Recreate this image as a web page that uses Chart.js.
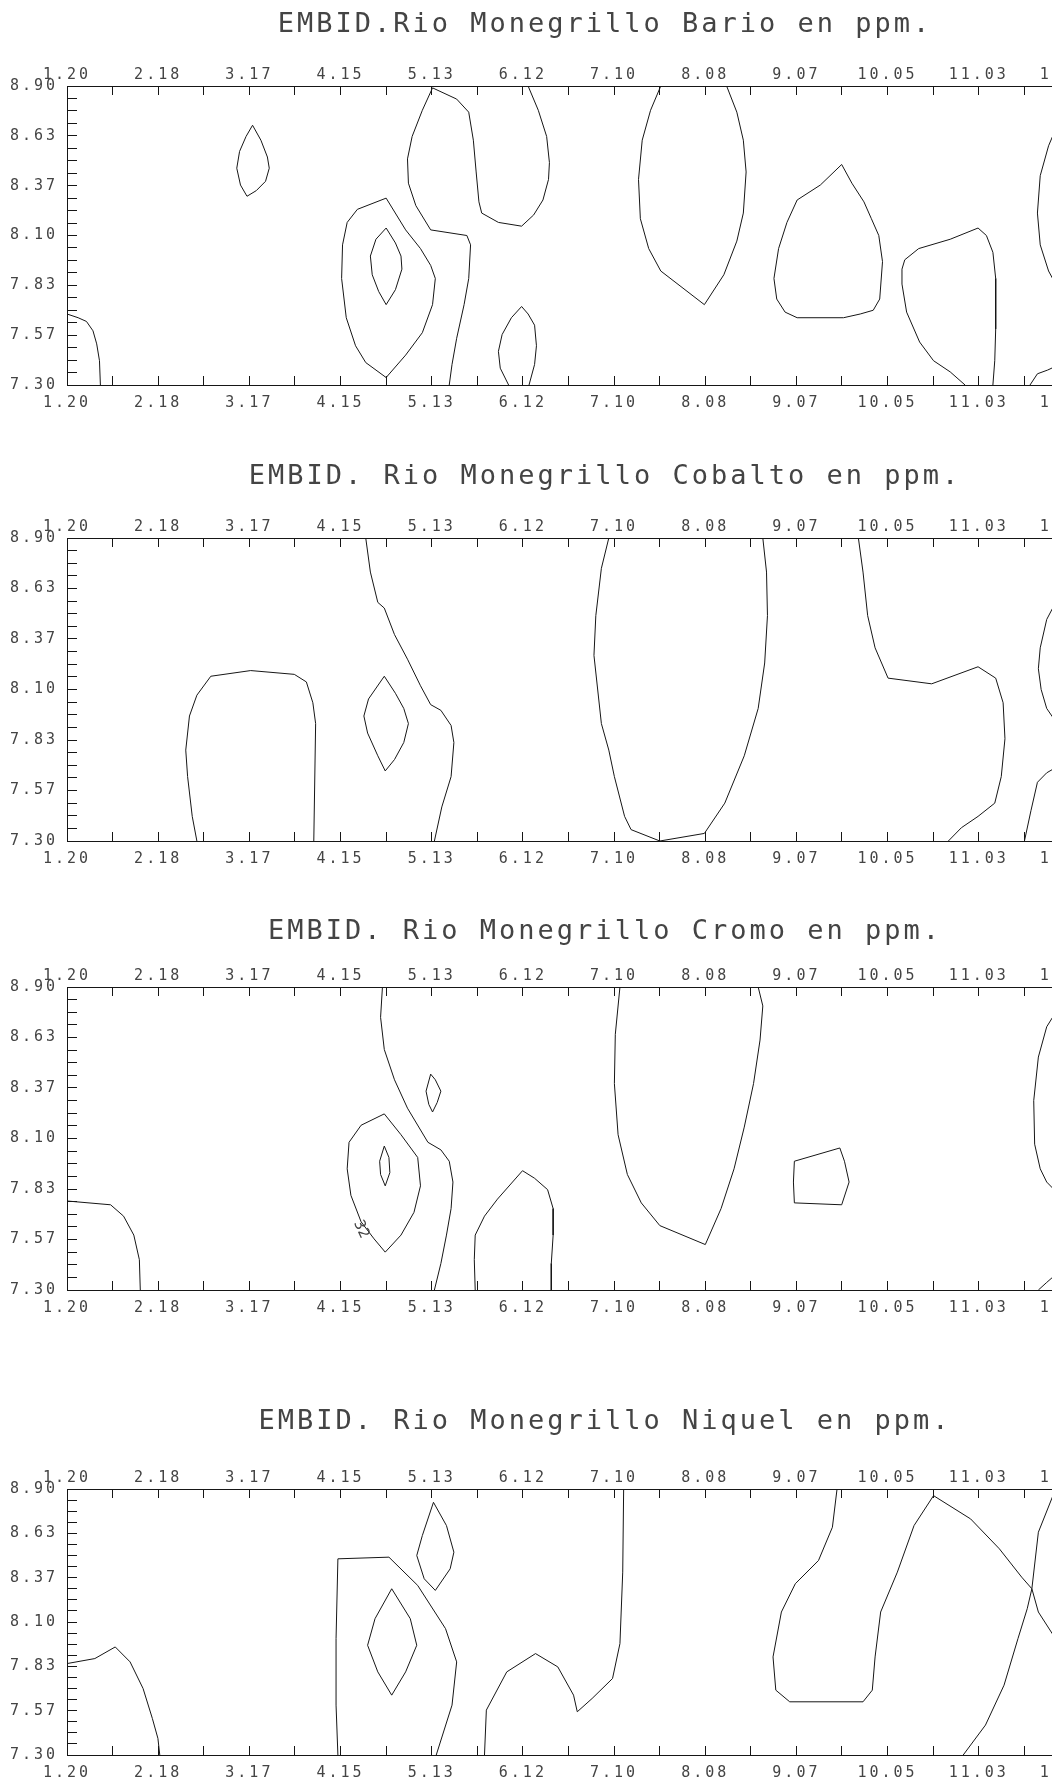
<!DOCTYPE html>
<html lang="es">
<head>
<meta charset="UTF-8">
<title>EMBID. Rio Monegrillo</title>
<script src="https://cdn.jsdelivr.net/npm/chart.js"></script>
<style>
  html, body { margin: 0; padding: 0; background: #fff; overflow: hidden; }
  #page { position: relative; width: 1052px; height: 1779px; overflow: hidden; }
  .panel { position: absolute; left: 0; }
</style>
</head>
<body>
<div id="page">
  <div class="panel" id="p1"><canvas id="bario"></canvas></div>
  <div class="panel" id="p2"><canvas id="cobalto"></canvas></div>
  <div class="panel" id="p3"><canvas id="cromo"></canvas></div>
  <div class="panel" id="p4"><canvas id="niquel"></canvas></div>
</div>
<script>
// axis labels
const xTickLabels = ['1.20', '2.18', '3.17', '4.15', '5.13', '6.12', '7.10', '8.08', '9.07', '10.05', '11.03', '12.01'];
const yTickLabels = ['7.30', '7.57', '7.83', '8.10', '8.37', '8.63', '8.90'];

// contour lines, [x, y] in data units
const bario = [
  [[1.20,7.68],[1.32,7.66],[1.41,7.64],[1.48,7.59],[1.52,7.52],[1.55,7.43],[1.56,7.30]],
  [[3.20,8.69],[3.29,8.61],[3.36,8.52],[3.38,8.46],[3.34,8.39],[3.24,8.34],[3.14,8.31],[3.07,8.37],[3.03,8.46],[3.06,8.55],[3.13,8.63],[3.20,8.69]],
  [[4.64,8.30],[4.33,8.24],[4.22,8.17],[4.17,8.05],[4.16,7.87],[4.21,7.66],[4.31,7.51],[4.42,7.42],[4.64,7.34],[4.85,7.46],[5.03,7.58],[5.14,7.73],[5.17,7.87],[5.12,7.94],[5.01,8.03],[4.85,8.13],[4.64,8.30]],
  [[4.64,8.14],[4.53,8.08],[4.47,7.99],[4.49,7.89],[4.56,7.80],[4.64,7.73],[4.74,7.81],[4.81,7.92],[4.80,7.99],[4.74,8.06],[4.64,8.14]],
  [[6.17,8.90],[6.28,8.77],[6.37,8.63],[6.40,8.49],[6.39,8.40],[6.33,8.29],[6.23,8.21],[6.10,8.15],[5.85,8.17],[5.67,8.22],[5.64,8.28],[5.61,8.44],[5.58,8.61],[5.53,8.76],[5.40,8.83],[5.14,8.89],[5.03,8.77],[4.92,8.63],[4.87,8.51],[4.88,8.38],[4.96,8.26],[5.12,8.13],[5.51,8.10],[5.55,8.05],[5.53,7.87],[5.48,7.73],[5.40,7.55],[5.35,7.41],[5.32,7.30]],
  [[5.96,7.30],[5.87,7.39],[5.85,7.48],[5.89,7.57],[5.99,7.66],[6.10,7.72],[6.17,7.68],[6.24,7.62],[6.26,7.51],[6.24,7.41],[6.18,7.30]],
  [[7.60,8.90],[7.49,8.77],[7.40,8.61],[7.36,8.40],[7.38,8.19],[7.47,8.03],[7.60,7.91],[8.07,7.73],[8.28,7.89],[8.42,8.07],[8.49,8.22],[8.52,8.44],[8.49,8.61],[8.42,8.76],[8.31,8.90]],
  [[9.55,8.48],[9.32,8.37],[9.07,8.29],[8.96,8.17],[8.87,8.03],[8.82,7.87],[8.85,7.76],[8.94,7.69],[9.07,7.66],[9.57,7.66],[9.75,7.68],[9.89,7.70],[9.96,7.76],[9.99,7.96],[9.95,8.10],[9.87,8.19],[9.79,8.28],[9.66,8.38],[9.55,8.48]],
  [[10.88,7.30],[10.72,7.37],[10.54,7.43],[10.39,7.53],[10.25,7.69],[10.20,7.84],[10.20,7.92],[10.23,7.97],[10.38,8.03],[10.72,8.08],[11.02,8.14],[11.11,8.10],[11.18,8.01],[11.21,7.87],[11.21,7.60],[11.20,7.43],[11.18,7.30]],
  [[11.90,8.72],[11.78,8.58],[11.69,8.42],[11.66,8.22],[11.69,8.05],[11.78,7.91],[11.90,7.80]],
  [[11.58,7.30],[11.66,7.36],[11.77,7.38],[11.90,7.41]]
];

const cobalto = [
  [[2.60,7.30],[2.55,7.43],[2.50,7.64],[2.48,7.78],[2.52,7.96],[2.60,8.07],[2.75,8.17],[3.18,8.20],[3.65,8.18],[3.78,8.14],[3.85,8.03],[3.88,7.92],[3.86,7.30]],
  [[4.62,8.17],[4.45,8.05],[4.40,7.96],[4.44,7.87],[4.55,7.75],[4.63,7.67],[4.73,7.73],[4.83,7.82],[4.88,7.92],[4.83,8.00],[4.74,8.08],[4.62,8.17]],
  [[4.42,8.90],[4.47,8.72],[4.55,8.56],[4.62,8.53],[4.73,8.39],[4.87,8.26],[5.01,8.12],[5.12,8.02],[5.23,7.99],[5.34,7.91],[5.37,7.82],[5.34,7.64],[5.24,7.48],[5.16,7.30]],
  [[7.04,8.90],[6.96,8.74],[6.90,8.49],[6.88,8.28],[6.96,7.92],[7.04,7.78],[7.10,7.64],[7.21,7.43],[7.28,7.36],[7.59,7.30],[8.07,7.34],[8.29,7.50],[8.50,7.75],[8.65,8.00],[8.72,8.24],[8.75,8.49],[8.74,8.72],[8.70,8.90]],
  [[9.73,8.90],[9.78,8.72],[9.83,8.49],[9.91,8.32],[10.05,8.16],[10.52,8.13],[11.02,8.22],[11.21,8.16],[11.29,8.03],[11.31,7.84],[11.27,7.64],[11.20,7.50],[11.02,7.43],[10.84,7.37],[10.70,7.30]],
  [[11.90,8.60],[11.76,8.47],[11.69,8.32],[11.67,8.21],[11.70,8.10],[11.76,8.00],[11.90,7.90]],
  [[11.52,7.30],[11.59,7.46],[11.66,7.61],[11.76,7.66],[11.90,7.70]]
];

const cromo = [
  [[1.20,7.77],[1.67,7.75],[1.81,7.69],[1.92,7.59],[1.98,7.46],[1.99,7.30]],
  [[4.62,8.23],[4.37,8.17],[4.24,8.08],[4.22,7.94],[4.26,7.80],[4.37,7.66],[4.51,7.57],[4.63,7.50],[4.80,7.59],[4.94,7.71],[5.01,7.85],[4.98,8.00],[4.80,8.12],[4.62,8.23]],
  [[4.62,8.06],[4.57,7.98],[4.58,7.91],[4.63,7.85],[4.68,7.92],[4.67,8.00],[4.62,8.06]],
  [[4.60,8.90],[4.58,8.74],[4.62,8.57],[4.73,8.41],[4.87,8.26],[5.09,8.08],[5.23,8.04],[5.32,7.98],[5.36,7.87],[5.34,7.73],[5.29,7.59],[5.23,7.44],[5.16,7.30]],
  [[5.12,8.44],[5.07,8.35],[5.10,8.28],[5.14,8.24],[5.19,8.29],[5.23,8.35],[5.17,8.41],[5.12,8.44]],
  [[5.60,7.30],[5.59,7.46],[5.60,7.59],[5.70,7.69],[5.84,7.78],[6.11,7.93],[6.24,7.89],[6.38,7.83],[6.44,7.73],[6.44,7.59],[6.42,7.44],[6.42,7.30]],
  [[7.16,8.90],[7.11,8.65],[7.10,8.39],[7.14,8.12],[7.24,7.91],[7.39,7.76],[7.59,7.64],[8.08,7.54],[8.25,7.73],[8.39,7.94],[8.50,8.16],[8.60,8.39],[8.67,8.62],[8.70,8.80],[8.65,8.90]],
  [[9.04,7.98],[9.53,8.05],[9.58,7.98],[9.63,7.87],[9.55,7.75],[9.04,7.76],[9.03,7.87],[9.04,7.98]],
  [[11.90,8.80],[11.76,8.69],[11.67,8.53],[11.62,8.30],[11.63,8.07],[11.69,7.94],[11.76,7.87],[11.90,7.80]],
  [[11.67,7.30],[11.76,7.34],[11.90,7.40]]
];
const cromoLabels = [{ x: 4.37, y: 7.62, text: '32', angle: 65 }];

const niquel = [
  [[1.20,7.85],[1.50,7.88],[1.72,7.95],[1.88,7.86],[2.02,7.70],[2.12,7.52],[2.18,7.40],[2.20,7.30]],
  [[4.12,7.30],[4.10,7.60],[4.10,8.00],[4.12,8.48],[4.67,8.49],[4.98,8.32],[5.28,8.06],[5.40,7.86],[5.35,7.60],[5.18,7.30]],
  [[4.70,8.30],[4.52,8.12],[4.44,7.96],[4.55,7.80],[4.70,7.66],[4.85,7.80],[4.97,7.96],[4.90,8.12],[4.70,8.30]],
  [[5.15,8.82],[5.03,8.62],[4.97,8.50],[5.05,8.36],[5.17,8.29],[5.33,8.42],[5.37,8.52],[5.29,8.68],[5.15,8.82]],
  [[5.70,7.30],[5.72,7.57],[5.94,7.80],[6.25,7.91],[6.49,7.83],[6.66,7.66],[6.70,7.56],[6.86,7.64],[7.08,7.76],[7.16,7.97],[7.19,8.40],[7.20,8.90]],
  [[9.50,8.90],[9.45,8.67],[9.30,8.47],[9.05,8.33],[8.90,8.16],[8.81,7.89],[8.84,7.69],[8.99,7.62],[9.78,7.62],[9.88,7.69],[9.91,7.89],[9.97,8.16],[10.15,8.40],[10.33,8.68],[10.54,8.86],[10.94,8.72],[11.25,8.54],[11.49,8.37],[11.60,8.30],[11.67,8.16],[11.82,8.03],[11.90,7.98]],
  [[11.90,8.92],[11.82,8.85],[11.67,8.64],[11.60,8.30]],
  [[10.86,7.30],[11.10,7.48],[11.30,7.72],[11.45,8.00],[11.55,8.18],[11.60,8.30]]
];

// x runs past the right edge of the page, like the cropped scan
const xMin = 1.20, xStep = (12.01 - 1.20) / 11, xMax = 13.52;
const yMin = 7.30, yMax = 8.90;

const xTicks = [], xTickText = [];
for (let i = 0; xMin + i * xStep / 2 <= xMax; i++) {
  xTicks.push(xMin + i * xStep / 2);
  xTickText.push(i % 2 === 0 && xTickLabels[i / 2] ? xTickLabels[i / 2] : '');
}
const yTicks = [], yTickText = [];
for (let i = 0; i <= 24; i++) {
  yTicks.push(yMin + i * (yMax - yMin) / 24);
  yTickText.push(i % 4 === 0 ? yTickLabels[i / 4] : '');
}

const ink = '#161616';
const textInk = '#444';
const mono = 'DejaVu Sans Mono';

const spacing = {
  id: 'spacing',
  beforeDraw(chart) { chart.ctx.letterSpacing = '3px'; }
};

const contourLabels = {
  id: 'contourLabels',
  afterDatasetsDraw(chart, args, opts) {
    const ctx = chart.ctx;
    (opts.items || []).forEach(it => {
      ctx.save();
      ctx.translate(chart.scales.x.getPixelForValue(it.x), chart.scales.y.getPixelForValue(it.y));
      ctx.rotate(it.angle * Math.PI / 180);
      ctx.font = '15px ' + mono;
      ctx.fillStyle = textInk;
      ctx.letterSpacing = '0px';
      ctx.textAlign = 'center';
      ctx.textBaseline = 'middle';
      ctx.fillText(it.text, 0, 0);
      ctx.restore();
    });
  }
};

function noPad(s) {
  s.paddingLeft = 0; s.paddingRight = 0; s.paddingTop = 0; s.paddingBottom = 0;
}

function xAxis(position, pad, h) {
  return {
    type: 'linear', position: position, min: xMin, max: xMax,
    afterBuildTicks: s => { s.ticks = xTicks.map(v => ({ value: v })); },
    afterFit: s => { s.height = h; noPad(s); },
    ticks: {
      callback: (v, i) => xTickText[i],
      autoSkip: false, maxRotation: 0, minRotation: 0, padding: pad,
      color: textInk, font: { family: mono, size: 15 }
    },
    grid: { drawOnChartArea: false, tickLength: -9, color: ink, lineWidth: 1 },
    border: { display: true, color: ink, width: 1 }
  };
}

function drawPanel(id, panelId, titleText, titleShift, plotTop, plotBottom, lines, labels) {
  const canvas = document.getElementById(id);
  canvas.width = 1210;
  canvas.height = 86 + (plotBottom - plotTop) + 40;
  document.getElementById(panelId).style.top = (plotTop - 86) + 'px';

  new Chart(canvas.getContext('2d'), {
    type: 'scatter',
    data: {
      datasets: lines.map(pts => ({
        data: pts.map(p => ({ x: p[0], y: p[1] })),
        showLine: true,
        borderColor: ink,
        borderWidth: 1,
        pointRadius: 0,
        tension: 0,
        fill: false
      }))
    },
    options: {
      responsive: false,
      animation: false,
      devicePixelRatio: 1,
      layout: { padding: 0 },
      plugins: {
        legend: { display: false },
        tooltip: { enabled: false },
        title: {
          display: true,
          text: titleText,
          color: textInk,
          font: { family: mono, size: 27, weight: 'normal' },
          padding: { top: 6 + titleShift, bottom: 0 }
        },
        contourLabels: { items: labels || [] }
      },
      scales: {
        x: xAxis('bottom', 18, 40),
        x2: xAxis('top', 11, 47.6 - titleShift),
        y: {
          type: 'linear', position: 'left', min: yMin, max: yMax,
          afterBuildTicks: s => { s.ticks = yTicks.map(v => ({ value: v })); },
          afterFit: s => { s.width = 67; noPad(s); },
          ticks: {
            callback: (v, i) => yTickText[i],
            autoSkip: false, padding: 19,
            color: textInk, font: { family: mono, size: 15 }
          },
          grid: { drawOnChartArea: false, tickLength: -10, color: ink, lineWidth: 1 },
          border: { display: true, color: ink, width: 1 }
        }
      }
    },
    plugins: [spacing, contourLabels]
  });
}

drawPanel('bario', 'p1', 'EMBID.Rio Monegrillo Bario en ppm.', 2.8, 86, 385, bario);
drawPanel('cobalto', 'p2', 'EMBID. Rio Monegrillo Cobalto en ppm.', 2.8, 538, 841, cobalto);
drawPanel('cromo', 'p3', 'EMBID. Rio Monegrillo Cromo en ppm.', 8.5, 987, 1290, cromo, cromoLabels);
drawPanel('niquel', 'p4', 'EMBID. Rio Monegrillo Niquel en ppm.', -2.9, 1489, 1755, niquel);
</script>
</body>
</html>
